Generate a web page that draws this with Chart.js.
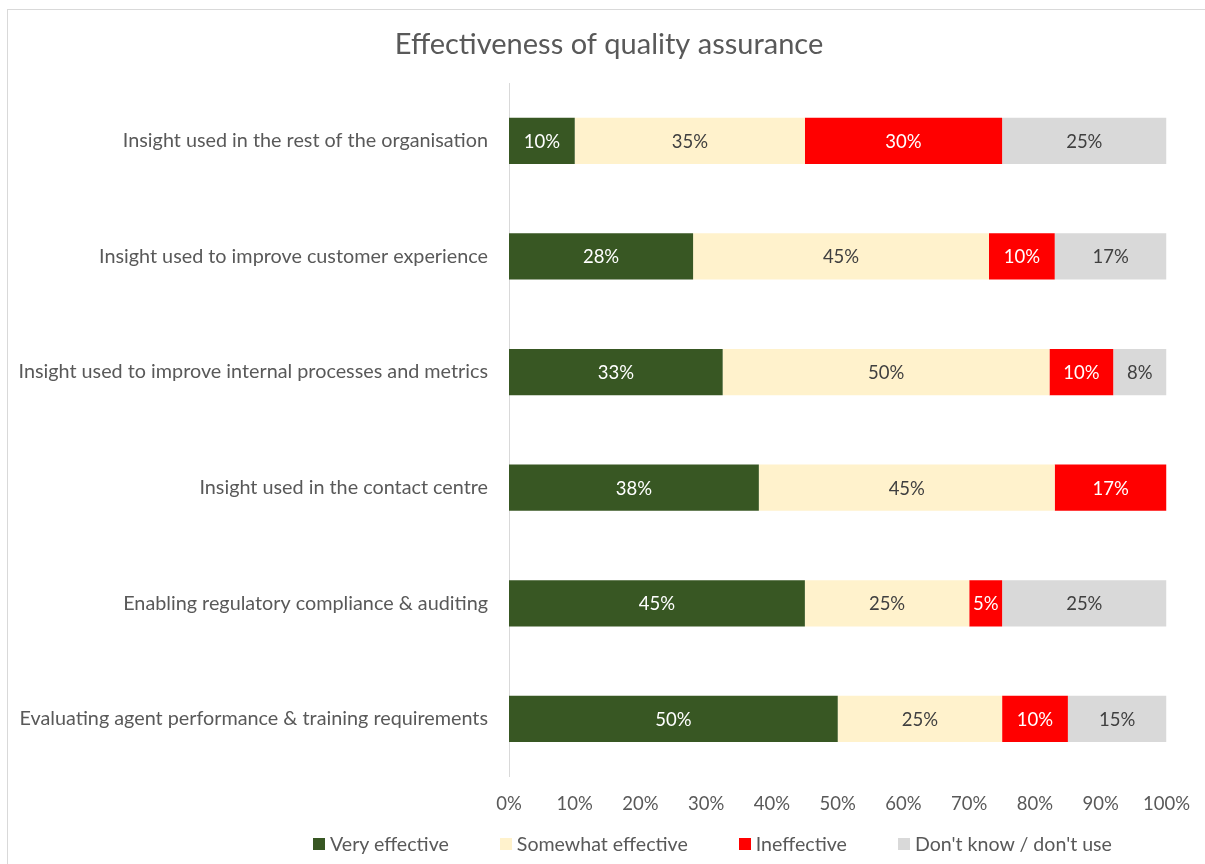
<!DOCTYPE html>
<html>
<head>
<meta charset="utf-8">
<script src="https://cdn.jsdelivr.net/npm/chart.js@4.4.1/dist/chart.umd.min.js"></script>
<style>
  html, body { margin: 0; padding: 0; background: #fff; overflow: hidden; }
  #box {
    position: absolute; left: 7px; top: 9px;
    width: 1210px; height: 870px;
    border: 1px solid #d9d9d9; box-sizing: border-box;
  }
  #wrap { position: absolute; left: 0; top: 0; width: 1198px; height: 855px; }
  #legend {
    position: absolute; left: 313px; top: 832px;
    display: flex; align-items: center; gap: 51px;
    font-family: Lato, 'Open Sans', sans-serif; font-size: 19.6px; color: #595959;
    white-space: nowrap;
  }
  #legend span.item { display: flex; align-items: center; }
  #legend span.sw { display: inline-block; width: 12px; height: 12px; margin-right: 5px; }
</style>
</head>
<body>
<div id="box"><div id="wrap"><canvas id="qa"></canvas></div></div>
<div id="legend"></div>
<script>
// categories, top to bottom
const categories = [
  "Insight used in the rest of the organisation",
  "Insight used to improve customer experience",
  "Insight used to improve internal processes and metrics",
  "Insight used in the contact centre",
  "Enabling regulatory compliance & auditing",
  "Evaluating agent performance & training requirements"
];
// series values (percent)
const veryEffective     = [10, 28, 32.5, 38, 45, 50];
const somewhatEffective = [35, 45, 49.7, 45, 25, 25];
const ineffective       = [30, 10, 9.7, 17, 5, 10];
const dontKnow          = [25, 17, 8.1, 0, 25, 15];
const seriesNames = ['Very effective', 'Somewhat effective', 'Ineffective', "Don't know / don't use"];
const xTicks = [0, 10, 20, 30, 40, 50, 60, 70, 80, 90, 100];
const title = 'Effectiveness of quality assurance';

const colors = ['#385723', '#fff2cc', '#ff0000', '#d9d9d9'];
const labelColors = ['#ffffff', '#404040', '#ffffff', '#404040'];
const font = "Lato, 'Open Sans', sans-serif";

// draws the value in the middle of each bar piece, and the title
const barLabels = {
  id: 'barLabels',
  afterDatasetsDraw(chart) {
    const ctx = chart.ctx;
    ctx.save();
    ctx.font = '18.5px ' + font;
    ctx.textAlign = 'center';
    ctx.textBaseline = 'middle';
    chart.data.datasets.forEach((ds, i) => {
      const meta = chart.getDatasetMeta(i);
      meta.data.forEach((bar, j) => {
        const v = ds.data[j];
        if (!v) return;
        ctx.fillStyle = labelColors[i];
        ctx.fillText(Math.round(v) + '%', (bar.x + bar.base) / 2, bar.y + 1);
      });
    });
    // title centred on the whole chart box
    ctx.font = '29px ' + font;
    ctx.fillStyle = '#595959';
    ctx.fillText(title, 601, 35);
    ctx.restore();
  }
};

const values = [veryEffective, somewhatEffective, ineffective, dontKnow];

new Chart(document.getElementById('qa'), {
  type: 'bar',
  data: {
    labels: categories,
    datasets: values.map((d, i) => ({
      label: seriesNames[i], data: d, backgroundColor: colors[i]
    }))
  },
  options: {
    indexAxis: 'y',
    responsive: true,
    maintainAspectRatio: false,
    animation: false,
    categoryPercentage: 0.8,
    barPercentage: 0.5,
    layout: { padding: { left: 0, right: 38, top: 73, bottom: 34 } },
    scales: {
      x: {
        stacked: true,
        min: 0, max: 100,
        afterBuildTicks(axis) { axis.ticks = xTicks.map(v => ({ value: v })); },
        grid: { display: false, drawTicks: false },
        border: { display: false },
        ticks: {
          padding: 16,
          color: '#595959',
          font: { family: font, size: 18.5 },
          callback: v => v + '%'
        }
      },
      y: {
        stacked: true,
        afterFit(axis) { axis.width = 501; },
        grid: { display: false, drawTicks: false },
        border: { display: true, color: '#d9d9d9', width: 1 },
        ticks: {
          padding: 21,
          color: '#595959',
          font: { family: font, size: 19.8 }
        }
      }
    },
    plugins: {
      title: { display: false },
      legend: { display: false },
      tooltip: { enabled: false }
    }
  },
  plugins: [barLabels]
});

// legend under the chart
let box = '';
for (let i = 0; i < seriesNames.length; i++) {
  box += `<span class="item"><span class="sw" style="background:${colors[i]}"></span>${seriesNames[i]}</span>`;
}
document.getElementById('legend').innerHTML = box;
</script>
</body>
</html>
